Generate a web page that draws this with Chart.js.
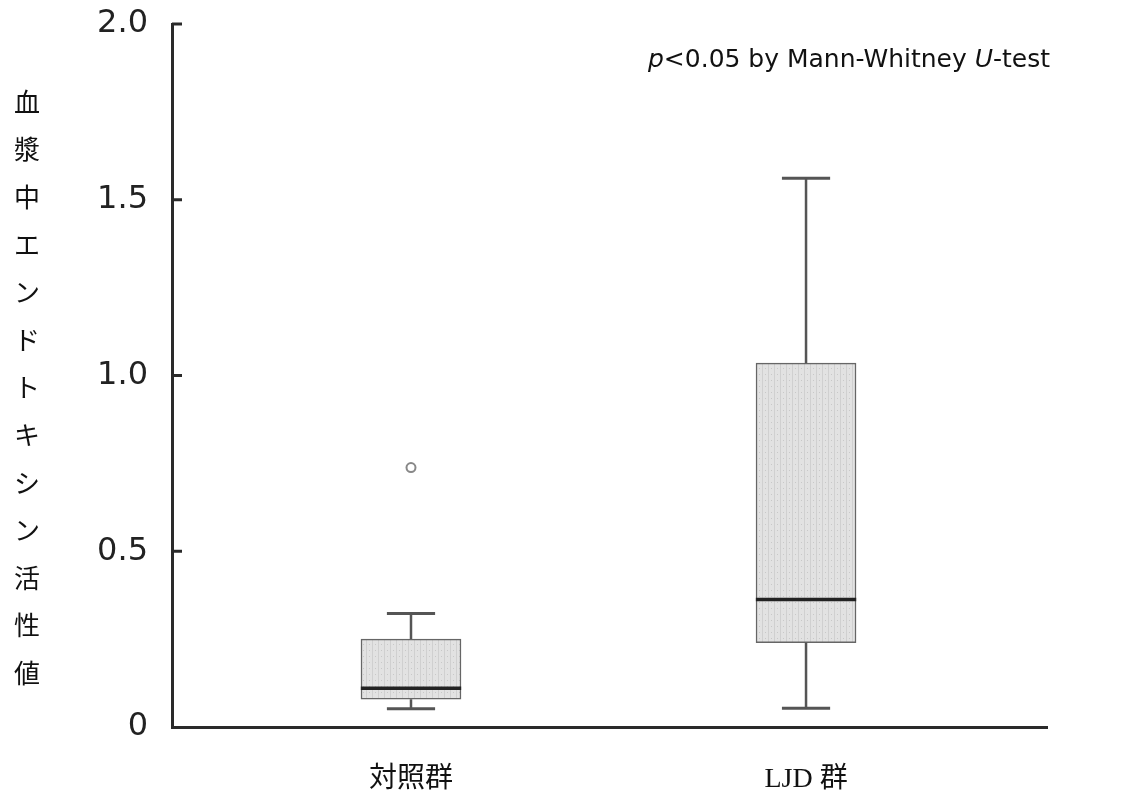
<!DOCTYPE html>
<html>
<head>
<meta charset="utf-8">
<script src="https://cdn.jsdelivr.net/npm/chart.js@4"></script>
<style>
html,body{margin:0;padding:0;background:#fff;}
#wrap{width:1139px;height:796px;position:relative;}
</style>
</head>
<body>
<div id="wrap"><canvas id="c" width="1139" height="796"></canvas></div>
<script>
// ---- data ----
const categories = ['対照群', 'LJD 群'];
const positions = [1, 2];
const whiskerLow = [0.052, 0.053];
const q1 = [0.079, 0.240];
const median = [0.110, 0.363];
const q3 = [0.250, 1.035];
const whiskerHigh = [0.323, 1.561];
const outliers = [[0.738], []];
const yTicks = [0, 0.5, 1.0, 1.5, 2.0];
const yTitle = '血漿中エンドトキシン活性値';
const note = [['p', true], ['<0.05 by Mann-Whitney ', false], ['U', true], ['-test', false]];

// ---- styles ----
const boxHalf = 0.127, capHalf = 0.061;
const whiskerColor = '#555', axisColor = '#2a2a2a';

function makePattern() {
  const p = document.createElement('canvas');
  p.width = 6; p.height = 6;
  const g = p.getContext('2d');
  g.fillStyle = '#e2e2e2'; g.fillRect(0, 0, 6, 6);
  g.fillStyle = '#d0d0d0'; g.fillRect(0, 0, 1, 6);
  g.fillStyle = '#c8c8c8'; g.fillRect(3, 2, 1, 1);
  return g.createPattern(p, 'repeat');
}

const datasets = [];
datasets.push({
  type: 'bar',
  data: positions.map((x, i) => ({ x: x, y: [q1[i], q3[i]] })),
  backgroundColor: makePattern(),
  borderColor: '#666',
  borderWidth: 1.5,
  borderSkipped: false,
  barThickness: 100,
  order: 10
});
function seg(pts, color, width) {
  datasets.push({
    type: 'line', data: pts, borderColor: color, borderWidth: width,
    pointRadius: 0, fill: false, tension: 0, order: 2
  });
}
positions.forEach((x, i) => {
  seg([{ x: x, y: q3[i] }, { x: x, y: whiskerHigh[i] }], whiskerColor, 2.5);
  seg([{ x: x, y: whiskerLow[i] }, { x: x, y: q1[i] }], whiskerColor, 2.5);
  seg([{ x: x - capHalf, y: whiskerHigh[i] }, { x: x + capHalf, y: whiskerHigh[i] }], whiskerColor, 3);
  seg([{ x: x - capHalf, y: whiskerLow[i] }, { x: x + capHalf, y: whiskerLow[i] }], whiskerColor, 3);
  seg([{ x: x - boxHalf, y: median[i] }, { x: x + boxHalf, y: median[i] }], '#222', 3.5);
});
datasets.push({
  type: 'scatter',
  data: positions.flatMap((x, i) => outliers[i].map(v => ({ x: x, y: v }))),
  pointRadius: 4.5, pointBorderWidth: 2, pointBorderColor: '#888',
  pointBackgroundColor: '#fff', order: 1
});

const decorPlugin = {
  id: 'decor',
  afterDraw(chart) {
    const ctx = chart.ctx, ys = chart.scales.y, area = chart.chartArea;
    ctx.save();
    // inward tick marks
    ctx.strokeStyle = axisColor; ctx.lineWidth = 3;
    ys.ticks.forEach(t => {
      if (t.value === 0) return;
      const py = ys.getPixelForValue(t.value);
      ctx.beginPath(); ctx.moveTo(area.left, py); ctx.lineTo(area.left + 10, py); ctx.stroke();
    });
    // vertical y title
    ctx.fillStyle = '#111';
    ctx.font = '26px "Noto Sans CJK JP"';
    ctx.textAlign = 'center'; ctx.textBaseline = 'middle';
    const chars = Array.from(yTitle);
    const step = 47.6, y0 = 102;
    chars.forEach((ch, k) => ctx.fillText(ch, 27, y0 + k * step));
    // significance note
    ctx.textAlign = 'left'; ctx.textBaseline = 'alphabetic';
    const base = 21;
    let total = 0;
    note.forEach(([s, it]) => { ctx.font = (it ? 'italic ' : '') + base + 'px "DejaVu Sans"'; total += ctx.measureText(s).width; });
    const fs = base * 402 / total;
    let x = 648;
    note.forEach(([s, it]) => {
      ctx.font = (it ? 'italic ' : '') + fs.toFixed(2) + 'px "DejaVu Sans"';
      ctx.fillText(s, x, 67);
      x += ctx.measureText(s).width;
    });
    ctx.restore();
  }
};

new Chart(document.getElementById('c'), {
  type: 'bar',
  data: { datasets: datasets },
  options: {
    responsive: false,
    animation: false,
    layout: { padding: { left: 0, right: 92, top: 24, bottom: 0 } },
    plugins: { legend: { display: false }, tooltip: { enabled: false } },
    scales: {
      x: {
        type: 'linear', min: 0.395, max: 2.61, offset: false,
        afterBuildTicks(s) { s.ticks = positions.map(v => ({ value: v })); },
        afterFit(s) { s.height = 69; s.paddingLeft = 0; s.paddingRight = 0; },
        grid: { display: false, drawTicks: false, offset: false },
        border: { display: true, color: axisColor, width: 3 },
        ticks: {
          padding: 36, color: '#111',
          font: { family: '"Liberation Serif", "Noto Sans CJK JP"', size: 28 },
          callback: v => categories[positions.indexOf(v)]
        }
      },
      y: {
        min: 0, max: 2,
        afterBuildTicks(s) { s.ticks = yTicks.map(v => ({ value: v })); },
        afterFit(s) { s.width = 172; s.paddingTop = 0; s.paddingBottom = 0; },
        grid: { display: false, drawTicks: false },
        border: { display: true, color: axisColor, width: 3 },
        ticks: {
          padding: 24, color: '#222',
          font: { family: '"DejaVu Sans"', size: 32 },
          callback: v => v === 0 ? '0' : v.toFixed(1)
        }
      }
    }
  },
  plugins: [decorPlugin]
});
</script>
</body>
</html>
